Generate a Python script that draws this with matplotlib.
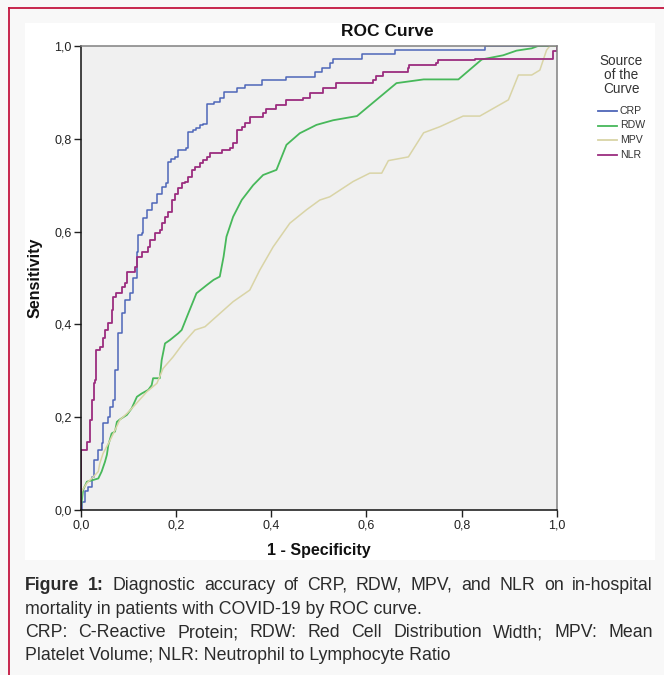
import numpy as np
import matplotlib
matplotlib.use('Agg')
import matplotlib.pyplot as plt
from matplotlib.patches import Rectangle
from matplotlib.lines import Line2D

plt.rcParams['font.family'] = ['Liberation Sans', 'DejaVu Sans']

# ROC points (1 - specificity, sensitivity)
crp_fpr = [0, .002, .009, .016, .023, .027, .037, .044, .047, .058, .062, .068, .072, .079, .086, .093, .104, .11,
           .118, .121, .128, .131, .14, .149, .16, .17, .18, .184, .19, .198, .205, .222, .226, .236, .243, .25, .257,
           .265, .279, .292, .30, .328, .345, .38, .432, .492, .506, .523, .53, .59, .66, .849, 1.0]
crp_tpr = [0, .018, .04, .05, .072, .108, .129, .144, .187, .201, .223, .237, .302, .381, .424, .453, .467, .5,
           .557, .593, .597, .629, .647, .661, .682, .697, .704, .751, .757, .761, .776, .78, .815, .819, .823, .83, .832,
           .876, .879, .887, .901, .909, .916, .927, .934, .945, .953, .963, .973, .983, .991, 1.0, 1.0]

rdw_fpr = [0, .005, .013, .027, .037, .044, .051, .055, .058, .065, .072, .076, .082, .097, .107, .118, .128, .142,
           .149, .152, .166, .17, .177, .187, .205, .212, .226, .243, .265, .279, .292, .3, .306, .32, .338, .362, .383,
           .411, .432, .46, .495, .53, .58, .663, .72, .793, .842, .887, .915, .947, .96, 1.0]
rdw_tpr = [0, .043, .061, .065, .068, .083, .104, .119, .14, .165, .169, .19, .195, .205, .219, .244, .251, .259,
           .269, .284, .284, .323, .359, .366, .381, .388, .424, .467, .485, .496, .503, .546, .589, .632, .668, .7, .722,
           .733, .787, .812, .83, .84, .849, .92, .928, .928, .971, .98, .99, .995, 1.0, 1.0]

mpv_fpr = [0, .002, .013, .027, .037, .04, .047, .062, .072, .082, .097, .111, .139, .16, .173, .194, .215, .24, .261,
           .285, .32, .355, .376, .404, .439, .474, .502, .523, .572, .607, .632, .646, .688, .72, .754, .803, .838,
           .898, .919, .947, .964, .978, .985, 1.0]
mpv_tpr = [0, .04, .058, .072, .083, .1, .122, .151, .172, .194, .208, .223, .255, .273, .305, .33, .359, .388, .395,
           .417, .449, .474, .517, .567, .618, .647, .668, .675, .708, .726, .726, .753, .761, .813, .826, .849, .849,
           .884, .9375, .9375, .948, .991, 1.0, 1.0]

nlr_fpr = [0, 0, .005, .013, .02, .023, .027, .03, .032, .04, .046, .051, .058, .065, .068, .075, .086, .093, .097,
           .114, .118, .128, .142, .146, .156, .167, .17, .177, .184, .191, .198, .205, .212, .219, .226, .233, .24, .25,
           .257, .265, .272, .296, .313, .32, .328, .338, .345, .355, .383, .39, .411, .432, .467, .481, .509, .537,
           .614, .62, .635, .688, .69, .747, .75, .828, .992, 1.0]
nlr_tpr = [0, .129, .13, .147, .194, .237, .273, .28, .345, .352, .37, .388, .402, .431, .46, .467, .481, .49, .514,
           .524, .546, .557, .567, .582, .596, .603, .618, .632, .643, .668, .682, .693, .704, .707, .718, .733, .74,
           .747, .754, .761, .769, .776, .78, .79, .819, .826, .833, .848, .855, .865, .873, .884, .887, .898, .909,
           .92, .927, .935, .945, .953, .958, .963, .97, .971, .99, 1.0]

names = ['CRP', 'RDW', 'MPV', 'NLR']
colors = ['#4e66b8', '#47b85a', '#d9d4a6', '#9b2d7f']
ticks = [0.0, 0.2, 0.4, 0.6, 0.8, 1.0]
tick_labels = ['0,0', '0,2', '0,4', '0,6', '0,8', '1,0']

W, H = 664, 675
fig = plt.figure(figsize=(W / 100, H / 100), dpi=100, facecolor='#f8f8f8')


def fx(x):
    return x / W


def fy(y):
    return 1 - y / H


# page frame + white chart panel
fig.add_artist(Line2D([fx(9), fx(9)], [fy(8), 0], transform=fig.transFigure, color='#c3163f', lw=1.3))
fig.add_artist(Line2D([fx(9), 1], [fy(8), fy(8)], transform=fig.transFigure, color='#c3163f', lw=1.3))
fig.patches.append(Rectangle((fx(25), fy(560)), fx(655) - fx(25), fy(23) - fy(560),
                             transform=fig.transFigure, facecolor='white', edgecolor='none', zorder=-5))

ax = fig.add_axes([fx(80.7), fy(510), fx(557) - fx(80.7), fy(46) - fy(510)])
ax.set_facecolor('#f0f0f0')
ax.plot(crp_fpr, crp_tpr, color=colors[0], lw=1.1, drawstyle='steps-post')
ax.plot(rdw_fpr, rdw_tpr, color=colors[1], lw=1.3)
ax.plot(mpv_fpr, mpv_tpr, color=colors[2], lw=1.1)
ax.plot(nlr_fpr, nlr_tpr, color=colors[3], lw=1.3, drawstyle='steps-post')
ax.set_xlim(0, 1)
ax.set_ylim(0, 1)
ax.set_xticks(ticks)
ax.set_xticklabels(tick_labels)
ax.set_yticks(ticks)
ax.set_yticklabels(tick_labels)
ax.tick_params(direction='out', length=5, width=1, labelsize=9, pad=1.5, colors='#222222')
for s in ['left', 'bottom']:
    ax.spines[s].set_color('#111111')
    ax.spines[s].set_linewidth(1.1)
for s in ['top', 'right']:
    ax.spines[s].set_color('#808080')
    ax.spines[s].set_linewidth(1.1)

fig.text(fx(387), fy(32), 'ROC Curve', fontsize=12.5, fontweight='bold', ha='center', va='center', color='#111111')
fig.text(fx(319), fy(550), '1 - Specificity', fontsize=11.5, fontweight='bold', ha='center', va='center', color='#111111')
fig.text(fx(35), fy(278), 'Sensitivity', fontsize=11.5, fontweight='bold', rotation=90, ha='center', va='center',
         color='#111111')

# legend
fig.text(fx(621), fy(75), 'Source\nof the\nCurve', fontsize=9.8, ha='center', va='center', linespacing=1.0,
         color='#333333')
for i, (n, c) in enumerate(zip(names, colors)):
    yy = 111 + i * 14.5
    fig.add_artist(Line2D([fx(598), fx(617)], [fy(yy), fy(yy)], transform=fig.transFigure, color=c, lw=1.3))
    fig.text(fx(620), fy(yy), n, fontsize=7.6, ha='left', va='center', color='#333333')

# caption
renderer = fig.canvas.get_renderer()
cap_color = '#2b2b2b'
cap_size = 12.8


def justified_line(tokens, y):
    texts = [fig.text(0, fy(y), w, fontsize=cap_size, fontweight=wt, ha='left', va='baseline', color=cap_color)
             for w, wt in tokens]
    widths = [t.get_window_extent(renderer).width for t in texts]
    gap = (653 - 25 - sum(widths)) / (len(texts) - 1)
    x = 25
    for t, w in zip(texts, widths):
        t.set_x(fx(x))
        x += w + gap


line1 = [('Figure', 'bold'), ('1:', 'bold')] + [(w, 'normal') for w in
        'Diagnostic accuracy of CRP, RDW, MPV, and NLR on in-hospital'.split()]
line3 = [(w, 'normal') for w in 'CRP: C-Reactive Protein; RDW: Red Cell Distribution Width; MPV: Mean'.split()]
justified_line(line1, 590)
fig.text(fx(25), fy(613.5), 'mortality in patients with COVID-19 by ROC curve.', fontsize=cap_size,
         ha='left', va='baseline', color=cap_color)
justified_line(line3, 637)
fig.text(fx(25), fy(660), 'Platelet Volume; NLR: Neutrophil to Lymphocyte Ratio', fontsize=cap_size,
         ha='left', va='baseline', color=cap_color)

fig.savefig('out.png', dpi=100, facecolor=fig.get_facecolor())
